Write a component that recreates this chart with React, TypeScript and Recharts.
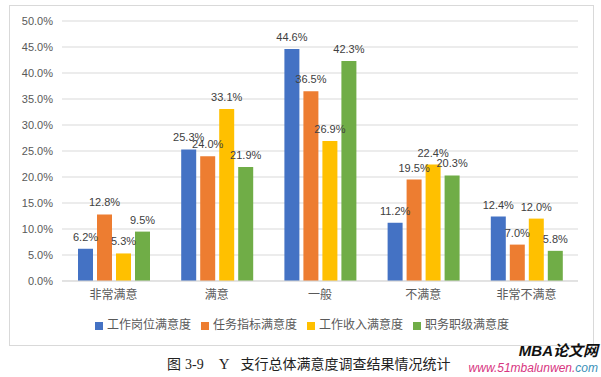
import { BarChart, Bar, XAxis, YAxis, CartesianGrid, Legend, LabelList } from 'recharts';

// survey result shares (%) per satisfaction level
const categories = ['非常满意', '满意', '一般', '不满意', '非常不满意'];
const seriesNames = ['工作岗位满意度', '任务指标满意度', '工作收入满意度', '职务职级满意度'];
const jobPost = [6.2, 25.3, 44.6, 11.2, 12.4];
const taskTarget = [12.8, 24.0, 36.5, 19.5, 7.0];
const workIncome = [5.3, 33.1, 26.9, 22.4, 12.0];
const jobRank = [9.5, 21.9, 42.3, 20.3, 5.8];
const yTicks = [0, 5, 10, 15, 20, 25, 30, 35, 40, 45, 50];
const colors = ['#4472C4', '#ED7D31', '#FFC000', '#70AD47'];

const data = categories.map((name, i) => ({
    name,
    s0: jobPost[i],
    s1: taskTarget[i],
    s2: workIncome[i],
    s3: jobRank[i],
}));

const numFont = '"Liberation Sans", "Noto Sans CJK SC", sans-serif';
const cjkFont = '"Noto Sans CJK SC", "Liberation Sans", sans-serif';
const serifFont = '"Liberation Serif", "Noto Sans CJK SC", serif';

export default function App() {
    return (
        <div style={{ position: 'absolute', left: 0, top: 0, width: 601, height: 377, background: '#fff' }}>
            <style>{`.recharts-legend-item { margin-right: 10px !important; }`}</style>
            <div
                style={{
                    position: 'absolute',
                    left: 9,
                    top: 5,
                    width: 585,
                    height: 341,
                    border: '1px solid #D9D9D9',
                    boxSizing: 'border-box',
                }}
            >
                <BarChart
                    width={583}
                    height={339}
                    data={data}
                    margin={{ top: 15, right: 15, left: 0, bottom: 8 }}
                    barGap={4}
                    barCategoryGap={16}
                >
                    <CartesianGrid vertical={false} stroke="#D9D9D9" />
                    <XAxis
                        dataKey="name"
                        height={30}
                        tickLine={false}
                        axisLine={{ stroke: '#D9D9D9' }}
                        tickMargin={3}
                        tick={{ fill: '#595959', fontSize: 12, fontFamily: cjkFont }}
                    />
                    <YAxis
                        width={52}
                        domain={[0, 50]}
                        ticks={yTicks}
                        interval={0}
                        axisLine={false}
                        tickLine={false}
                        tickMargin={3}
                        tickFormatter={(v: number) => v.toFixed(1) + '%'}
                        tick={{ fill: '#595959', fontSize: 11, fontFamily: numFont }}
                    />
                    <Legend
                        verticalAlign="bottom"
                        iconType="square"
                        iconSize={8}
                        itemSorter="dataKey"
                        wrapperStyle={{
                            fontSize: 12,
                            fontFamily: cjkFont,
                            height: 26,
                            lineHeight: '26px',
                            left: 13,
                            width: 568,
                        }}
                        formatter={(value: string) => <span style={{ color: '#595959' }}>{value}</span>}
                    />
                    {seriesNames.map((n, i) => (
                        <Bar key={n} dataKey={'s' + i} name={n} fill={colors[i]} isAnimationActive={false}>
                            <LabelList
                                dataKey={'s' + i}
                                position="top"
                                offset={8}
                                formatter={(v: number) => v.toFixed(1) + '%'}
                                style={{ fill: '#404040', fontSize: 11, fontFamily: numFont }}
                            />
                        </Bar>
                    ))}
                </BarChart>
            </div>
            {/* figure caption */}
            <div
                style={{
                    position: 'absolute',
                    left: 167,
                    top: 356,
                    fontFamily: serifFont,
                    fontSize: 14,
                    lineHeight: '17px',
                    color: '#222',
                    whiteSpace: 'nowrap',
                }}
            >
                <span>图</span>
                <span style={{ marginLeft: 4 }}>3-9</span>
                <span style={{ marginLeft: 15, fontSize: 15 }}>Y</span>
                <span style={{ marginLeft: 11 }}>支行总体满意度调查结果情况统计</span>
            </div>
            <div
                style={{
                    position: 'absolute',
                    right: 3,
                    top: 343,
                    fontFamily: '"Liberation Sans", "Noto Sans CJK SC", sans-serif',
                    fontSize: 15,
                    lineHeight: '16px',
                    fontWeight: 'bold',
                    fontStyle: 'italic',
                    color: '#111',
                }}
            >
                MBA论文网
            </div>
            <div
                style={{
                    position: 'absolute',
                    right: 3,
                    top: 362,
                    fontFamily: '"Liberation Sans", sans-serif',
                    fontSize: 12,
                    lineHeight: '13px',
                    fontStyle: 'italic',
                    color: '#D8357F',
                }}
            >
                www.51mbalunwen.<span style={{ color: '#3A8FB7' }}>com</span>
            </div>
        </div>
    );
}
